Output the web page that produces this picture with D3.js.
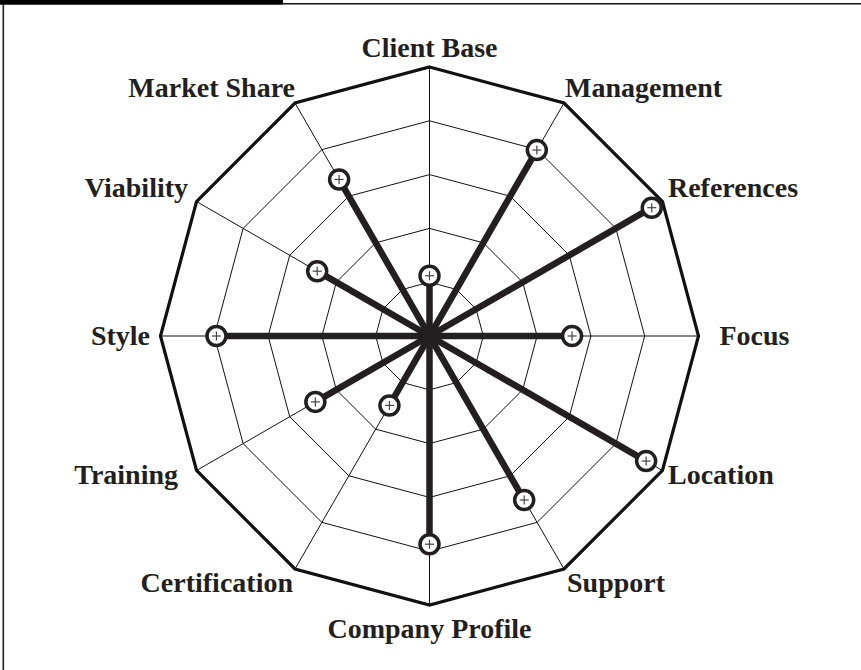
<!DOCTYPE html>
<html><head><meta charset="utf-8">
<script src="https://cdn.jsdelivr.net/npm/d3@7"></script>
<style>html,body{margin:0;padding:0;background:#fff;}</style>
</head><body>
<svg id="chart" width="861" height="670"></svg>
<script>
const categories = ["Client Base","Management","References","Focus","Location","Support","Company Profile","Certification","Training","Style","Viability","Market Share"];
const values = [1.12, 3.99, 4.77, 2.65, 4.65, 3.52, 3.87, 1.49, 2.45, 3.96, 2.41, 3.36];
const levels = [1,2,3,4,5];
const maxValue = 5;

const svg = d3.select("#chart");
const W = 861, H = 670;
const cx = 429.5, cy = 336, R = 269;

// frame
svg.append("line").attr("x1",0).attr("x2",W).attr("y1",3.8).attr("y2",3.8).attr("stroke","#111").attr("stroke-width",1.6);
svg.append("rect").attr("x",0).attr("y",0).attr("width",283).attr("height",4.5).attr("fill","#000");
svg.append("line").attr("x1",3.3).attr("x2",3.3).attr("y1",4).attr("y2",H).attr("stroke","#222").attr("stroke-width",1.6);

const n = categories.length;
const angle = d3.scaleLinear().domain([0,n]).range([0,2*Math.PI]);
const r = d3.scaleLinear().domain([0,maxValue]).range([0,R]);
const pt = (i,v) => [cx + r(v)*Math.sin(angle(i)), cy - r(v)*Math.cos(angle(i))];

const g = svg.append("g");
levels.forEach(l => {
  const pts = d3.range(n).map(i => pt(i,l));
  g.append("path").attr("d", d3.line().curve(d3.curveLinearClosed)(pts))
    .attr("fill","none").attr("stroke","#111")
    .attr("stroke-width", l===maxValue ? 3.2 : 1)
    .attr("stroke-linejoin","miter");
});
d3.range(n).forEach(i => {
  const [x,y] = pt(i,maxValue);
  g.append("line").attr("x1",cx).attr("y1",cy).attr("x2",x).attr("y2",y).attr("stroke","#111").attr("stroke-width",1);
});
values.forEach((v,i) => {
  const [x,y] = pt(i,v);
  g.append("line").attr("x1",cx).attr("y1",cy).attr("x2",x).attr("y2",y)
    .attr("stroke","#231f20").attr("stroke-width",6.5).attr("stroke-linecap","butt");
});
values.forEach((v,i) => {
  const [x,y] = pt(i,v);
  g.append("circle").attr("cx",x).attr("cy",y).attr("r",9.5).attr("fill","#fff").attr("stroke","#231f20").attr("stroke-width",3.5);
  g.append("line").attr("x1",x-4.5).attr("x2",x+4.5).attr("y1",y).attr("y2",y).attr("stroke","#444").attr("stroke-width",1.2);
  g.append("line").attr("x1",x).attr("x2",x).attr("y1",y-4.5).attr("y2",y+4.5).attr("stroke","#444").attr("stroke-width",1.2);
});
// label offsets from the outer vertex, per spoke position (layout only)
const labelOffset = [[0,-20],[1,-16],[5.5,-14],[21,-1],[5.5,4],[3,13],[0,23],[-2,13],[-18.5,4],[-10.5,-1],[-8.5,-14],[0,-16]];
categories.forEach((c,i) => {
  const s = Math.sin(angle(i));
  const [vx,vy] = pt(i,maxValue);
  const anchor = Math.abs(s) < 0.1 ? "middle" : (s > 0 ? "start" : "end");
  g.append("text").attr("x",vx+labelOffset[i][0]).attr("y",vy+labelOffset[i][1]).attr("dy","0.35em")
    .attr("text-anchor",anchor)
    .attr("font-family","'Liberation Serif','Times New Roman',serif")
    .attr("font-weight","bold").attr("font-size","28px").attr("fill","#231f20")
    .text(c);
});
</script>
</body></html>
